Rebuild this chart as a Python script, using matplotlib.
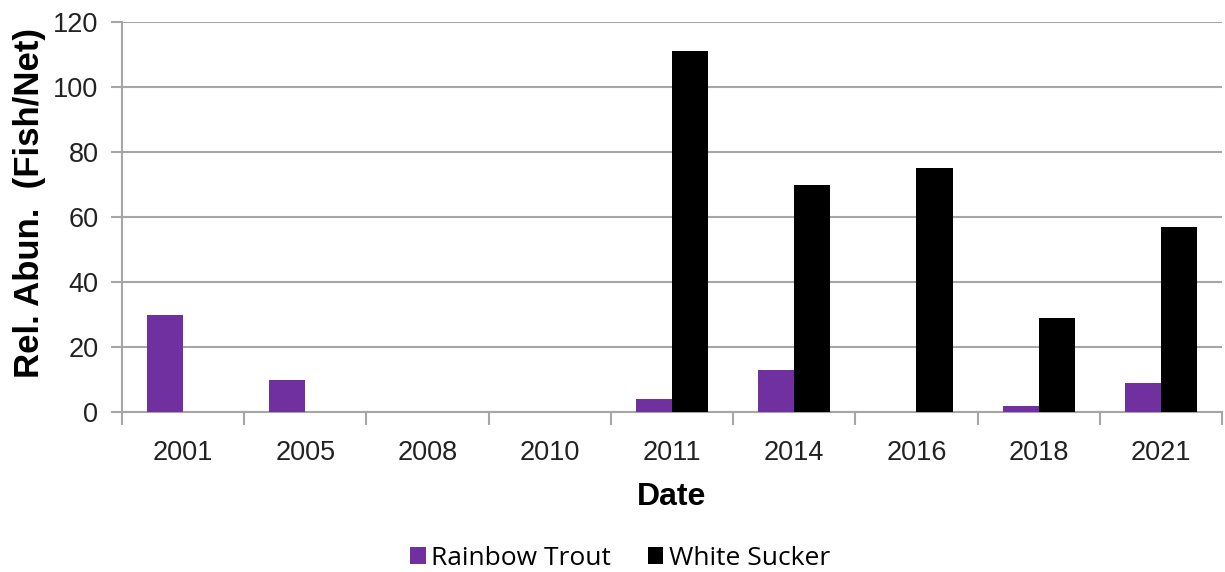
import numpy as np
import matplotlib.pyplot as plt

# data
years = ['2001', '2005', '2008', '2010', '2011', '2014', '2016', '2018', '2021']
rainbow_trout = [30, 10, 0, 0, 4, 13, 0, 2, 9]
white_sucker = [0, 0, 0, 0, 111, 70, 75, 29, 57]

plt.rcParams['font.family'] = ['Liberation Sans', 'DejaVu Sans']

fig = plt.figure(figsize=(12.25, 5.72), dpi=100)
ax = fig.add_axes([0.0996, 0.2797, 0.898, 0.6818])

x = np.arange(len(years))
w = 0.295
ax.bar(x - w / 2, rainbow_trout, w, color='#7030A0', label='Rainbow Trout', zorder=3)
ax.bar(x + w / 2, white_sucker, w, color='#000000', label='White Sucker', zorder=3)

ax.set_xlim(-0.5, len(years) - 0.5)
ax.set_ylim(0, 120)
ax.set_yticks(range(0, 121, 20))
ax.yaxis.grid(True, color='#A6A6A6', linewidth=1.5, zorder=0)

# category labels centred, tick marks on the boundaries
ax.set_xticks(x)
ax.set_xticklabels(years, fontsize=19.5, color='#222222')
ax.tick_params(axis='x', length=0, pad=20)
ax.set_xticks(np.arange(-0.5, len(years)), minor=True)
ax.tick_params(axis='x', which='minor', length=9, width=1.5, color='#A6A6A6')
ax.tick_params(axis='y', labelsize=19.5, labelcolor='#222222', length=8, width=1.5,
               color='#A6A6A6', pad=9)

for s in ['top', 'right']:
    ax.spines[s].set_visible(False)
for s in ['left', 'bottom']:
    ax.spines[s].set_color('#A6A6A6')
    ax.spines[s].set_linewidth(1.5)

ax.set_xlabel('Date', fontsize=23, fontweight='bold', labelpad=12)
ax.set_ylabel('Rel. Abun.  (Fish/Net)', fontsize=25, fontweight='bold')
ax.yaxis.set_label_coords(-0.069, 0.535)

fig.legend(loc='center', bbox_to_anchor=(0.506, 0.024), ncol=2, frameon=False,
           prop={'family': ['Open Sans', 'DejaVu Sans'], 'size': 19},
           handlelength=0.6, handleheight=0.6, handletextpad=0.2, columnspacing=1.4)

plt.savefig('out.png', dpi=100)
